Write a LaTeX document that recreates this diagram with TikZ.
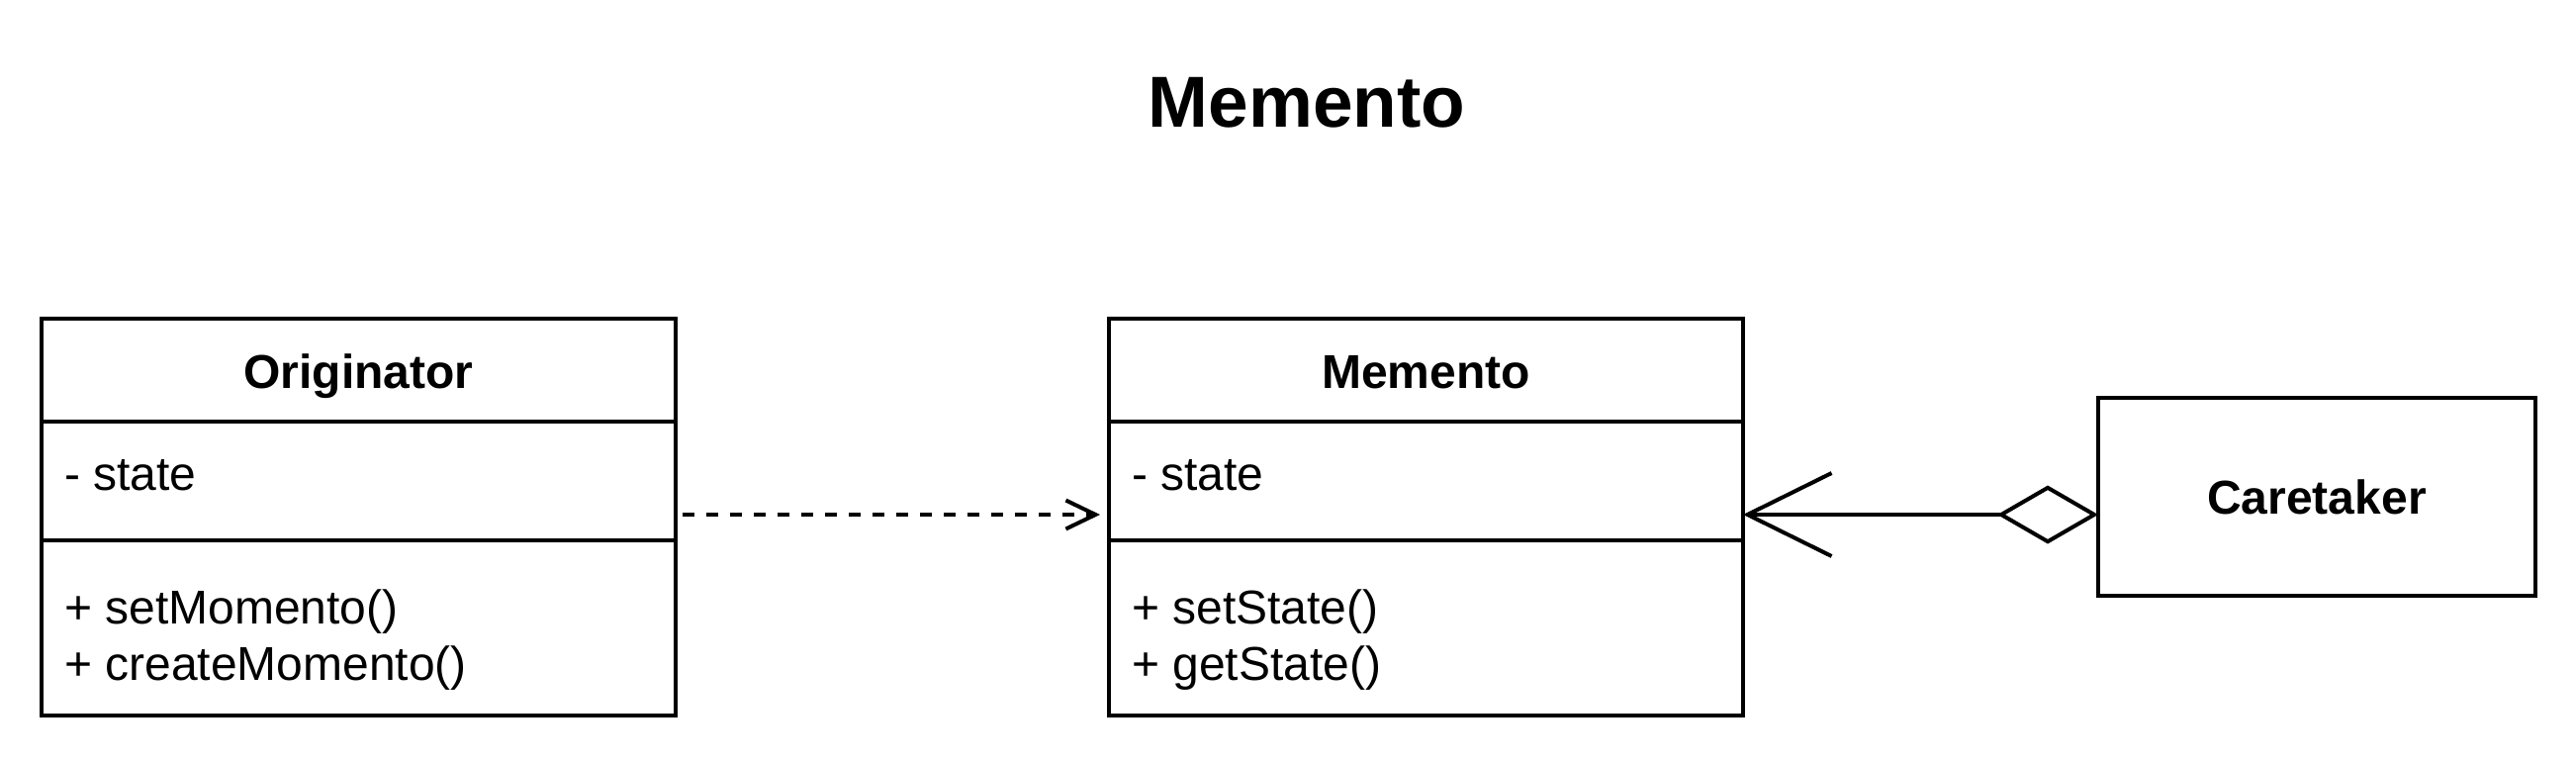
\documentclass[tikz,border=0pt]{standalone}
\usepackage{fontspec}
\setmainfont{Liberation Sans}
\usetikzlibrary{arrows.meta,calc}
\begin{document}
\begin{tikzpicture}[x=1pt,y=-1pt, line width=4pt,
  every node/.style={inner sep=0pt, outer sep=0pt},
  classbox/.style={draw, rectangle, minimum width=641pt, minimum height=401pt, anchor=north west},
  plainbox/.style={draw, rectangle, minimum width=442pt, minimum height=200pt, anchor=north west, font=\fontsize{48}{57}\selectfont\bfseries},
  cname/.style={anchor=base, font=\fontsize{48}{57}\selectfont\bfseries},
  member/.style={anchor=base west, font=\fontsize{48}{57}\selectfont},
  titletext/.style={anchor=base, font=\fontsize{73}{88}\selectfont\bfseries},
  dep/.style={dash pattern=on 12pt off 12pt, -{Straight Barb[length=30pt,width=29pt]}},
  assoc/.style={{Diamond[open,length=102pt,width=59pt]}-{Straight Barb[length=85pt,width=84pt]}},
]
\useasboundingbox (0,0) rectangle (2604,772);

\node[titletext] (T) at (1321,128) {Memento};

% Originator
\node[classbox] (O) at (42,322) {};
\draw ($(O.north west)+(0,104)$) -- ($(O.north east)+(0,104)$);
\draw ($(O.north west)+(0,224)$) -- ($(O.north east)+(0,224)$);
\node[cname] (Oname) at ($(O.north)+(0,70)$) {Originator};
\node[member] (Oattr) at ($(O.north west)+(23,173)$) {- state};
\node[member] (Om1) at ($(O.north west)+(23,308)$) {+ setMomento()};
\node[member] (Om2) at ($(O.north west)+(23,365)$) {+ createMomento()};

% Memento
\node[classbox] (M) at (1121,322) {};
\draw ($(M.north west)+(0,104)$) -- ($(M.north east)+(0,104)$);
\draw ($(M.north west)+(0,224)$) -- ($(M.north east)+(0,224)$);
\node[cname] (Mname) at ($(M.north)+(0,70)$) {Memento};
\node[member] (Mattr) at ($(M.north west)+(23,173)$) {- state};
\node[member] (Mm1) at ($(M.north west)+(23,308)$) {+ setState()};
\node[member] (Mm2) at ($(M.north west)+(23,365)$) {+ getState()};

% Caretaker
\node[plainbox] (C) at (2121,402) {Caretaker};

% connectors
\coordinate (Oc) at ([yshift=2.5pt]O.east);
\coordinate (Mc) at ([yshift=2.5pt]M.east);
\draw[dep, shorten <=7pt, shorten >=9pt] (Oc) -- (Oc -| M.west);
\draw[assoc] (C.west |- Mc) -- (Mc);
\end{tikzpicture}
\end{document}
